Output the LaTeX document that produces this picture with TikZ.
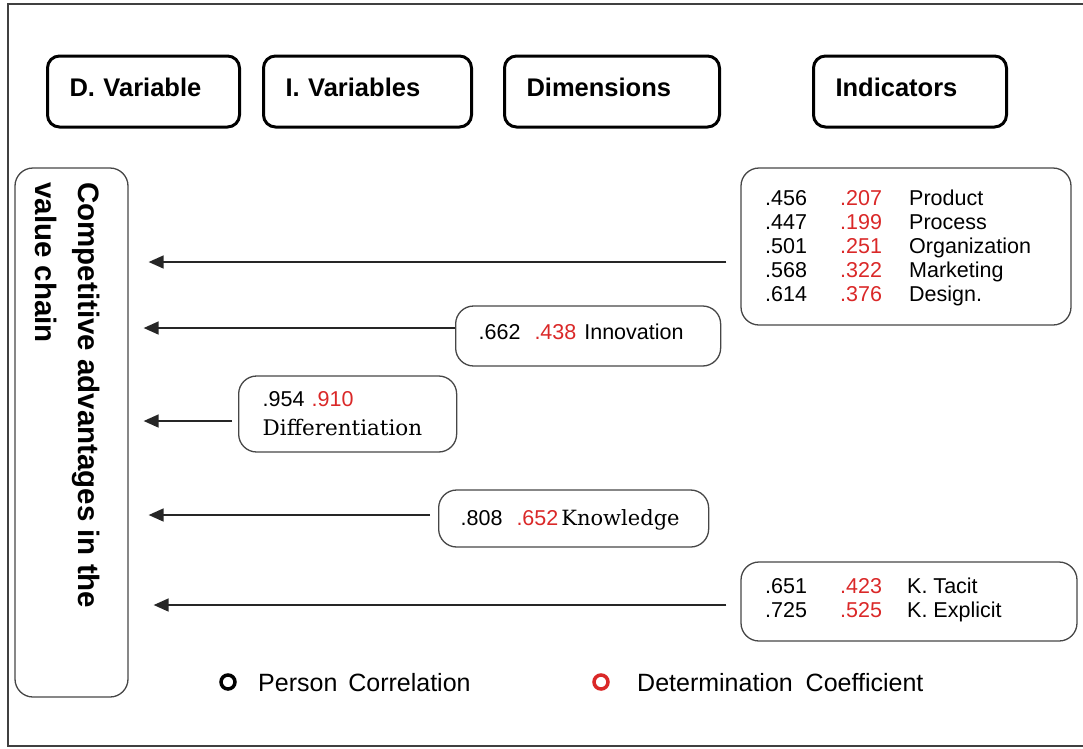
\documentclass[tikz,border=0pt]{standalone}
\usepackage{fontspec}
\setmainfont{Liberation Sans}
\newfontfamily\serifword{DejaVu Serif}
\usetikzlibrary{arrows.meta}
\definecolor{numred}{RGB}{218,40,40}
\definecolor{boxgray}{RGB}{70,70,70}

\begin{document}
\begin{tikzpicture}[x=1pt,y=-1pt,
    hdr/.style={draw, line width=3pt, rounded corners=12pt, inner xsep=22pt, inner ysep=0pt,
        text height=40pt, text depth=31pt, align=left, anchor=base west,
        font=\fontsize{25.5}{30}\selectfont\bfseries},
    databox/.style={draw=boxgray, line width=1.3pt, rounded corners=18pt},
    num/.style={anchor=base west, inner sep=0pt, font=\fontsize{21.5}{26}\selectfont},
    rnum/.style={num, text=numred},
    arr/.style={-{Triangle[length=15pt,width=13pt]}, line width=1.6pt, draw=black!85},
    legdot/.style={circle, draw, line width=3.5pt, minimum size=14pt, inner sep=0pt}]

    \useasboundingbox (0,0) rectangle (1083,748);
    \draw[line width=1.5pt, draw=black!75] (1095,4) -- (8,4) -- (8,746) -- (1095,746);

    \node[hdr, text width=148pt] (dvar) at (46,96) {D. Variable};
    \node[hdr, text width=164pt] (ivar) at (262,96) {I. Variables};
    \node[hdr, text width=171pt] (dims) at (503,96) {Dimensions};
    \node[hdr, text width=149pt] (indic) at (812,96) {Indicators};

    \node[databox, minimum width=113pt, minimum height=529pt] (cav) at (71.5,432.5) {};
    \node[rotate=-90, anchor=west, align=left, inner sep=0pt,
        font=\fontsize{29.5}{43}\selectfont\bfseries] (cavtext) at (68,182)
        {Competitive advantages in the\\value chain};

    \node[databox, minimum width=330pt, minimum height=157pt] (ind1) at (906,246.5) {};
    \foreach \p/\r/\w [count=\k from 0] in {.456/.207/Product, .447/.199/Process,
        .501/.251/Organization, .568/.322/Marketing, .614/.376/Design.}{
        \node[num] (pa\k) at (765,205+24.2*\k) {\p};
        \node[rnum] (ra\k) at (840,205+24.2*\k) {\r};
        \node[num] (wa\k) at (909,205+24.2*\k) {\w};
    }

    \node[databox, anchor=base west, inner xsep=23pt, inner ysep=0pt, text height=33pt,
        text depth=27pt, text width=219pt, align=left, font=\fontsize{21.5}{26}\selectfont]
        (innov) at (455,339) {.662\hspace{14pt}\textcolor{numred}{.438}\hspace{8pt}Innovation};

    \node[databox, anchor=west, inner xsep=24pt, minimum height=76pt, text width=170pt,
        align=left, font=\fontsize{21.5}{29}\selectfont]
        (diff) at (238,414) {.954 \textcolor{numred}{.910}\\{\serifword\fontsize{21.5}{29}\selectfont Differentiation}};

    \node[databox, anchor=base west, inner xsep=22pt, inner ysep=0pt, text height=35pt,
        text depth=22pt, text width=226pt, align=left, font=\fontsize{21.5}{26}\selectfont]
        (know) at (438,525) {.808\hspace{14pt}\textcolor{numred}{.652}\hspace{3pt}{\serifword\fontsize{21}{26}\selectfont Knowledge}};

    \node[databox, minimum width=336pt, minimum height=79pt] (kbox) at (909,601.5) {};
    \foreach \p/\r/\w [count=\k from 0] in {.651/.423/K. Tacit, .725/.525/K. Explicit}{
        \node[num] (pb\k) at (765,593+24*\k) {\p};
        \node[rnum] (rb\k) at (840,593+24*\k) {\r};
        \node[num] (wb\k) at (907,593+24*\k) {\w};
    }

    \coordinate (s1) at ([xshift=-14pt,yshift=-15.5pt]ind1.west);
    \coordinate (s2) at ([yshift=8pt]innov.west);
    \coordinate (s3) at ([xshift=-6pt,yshift=-7pt]diff.west);
    \coordinate (s4) at ([xshift=-8pt,yshift=3.5pt]know.west);
    \coordinate (s5) at ([xshift=-14pt,yshift=-3.5pt]kbox.west);
    \draw[arr, shorten >=20pt] (s1) -- (s1 -| cav.east);
    \draw[arr, shorten >=15pt] (s2) -- (s2 -| cav.east);
    \draw[arr, shorten >=15pt] (s3) -- (s3 -| cav.east);
    \draw[arr, shorten >=20pt] (s4) -- (s4 -| cav.east);
    \draw[arr, shorten >=25pt] (s5) -- (s5 -| cav.east);

    \node[legdot] (pcdot) at (228,682) {};
    \node[anchor=base west, inner sep=0pt, font=\fontsize{25}{30}\selectfont] (pclabel) at (258,691) {Person\hspace{4pt} Correlation};
    \node[legdot, draw=numred] (dcdot) at (601,682) {};
    \node[anchor=base west, inner sep=0pt, font=\fontsize{25}{30}\selectfont] (dclabel) at (637,691) {Determination\hspace{6pt} Coefficient};
\end{tikzpicture}
\end{document}
